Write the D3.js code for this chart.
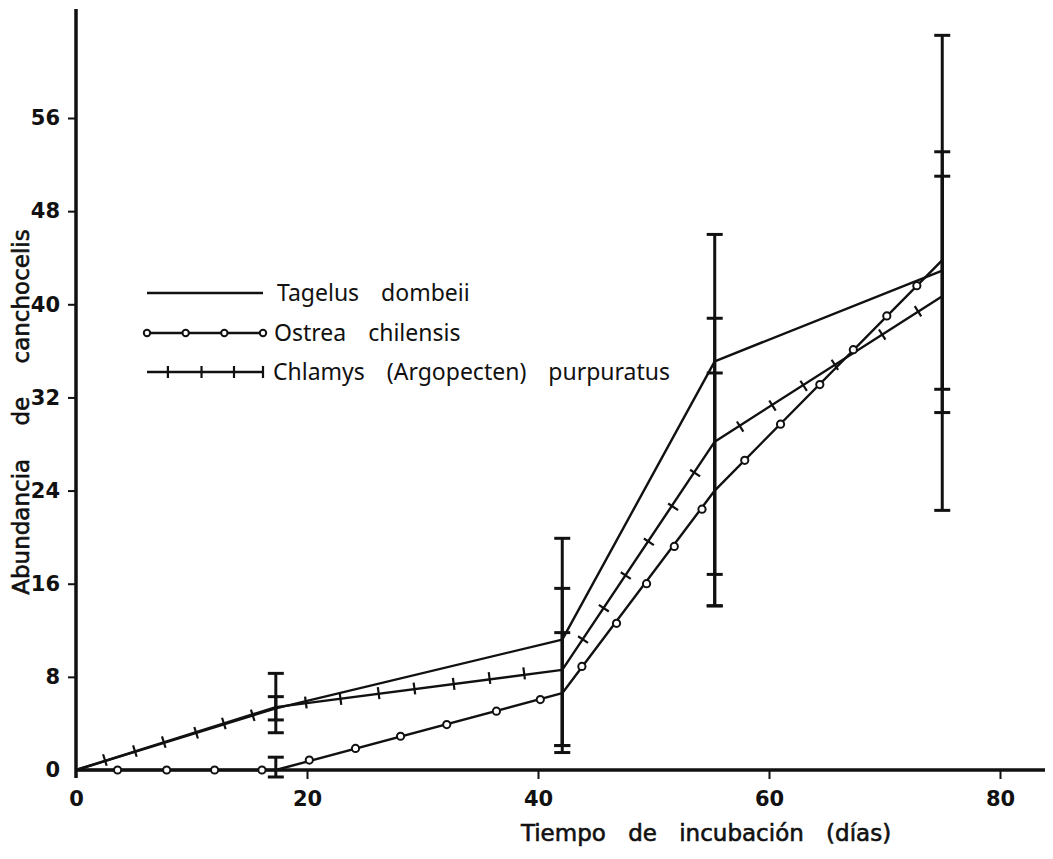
<!DOCTYPE html>
<html>
<head>
<meta charset="utf-8">
<script src="https://cdn.jsdelivr.net/npm/d3@7"></script>
<style>
  html, body { margin: 0; padding: 0; background: #ffffff; }
  svg { display: block; }
</style>
</head>
<body>
<svg id="chart" width="1053" height="859"></svg>
<script>
// ---------- data ----------
const xTicks = [0, 20, 40, 60, 80];
const yTicks = [0, 8, 16, 24, 32, 40, 48, 56];
const xTitle = "Tiempo de incubación (días)";
const yTitle = "Abundancia de canchocelis";
const seriesNames = ["Tagelus dombeii", "Ostrea chilensis", "Chlamys (Argopecten) purpuratus"];

const tagelusDays   = [0, 17.3, 42.1, 55.3, 75];
const tagelusValues = [0, 5.3, 11.2, 35.1, 42.9];

const ostreaDays   = [0, 17.3, 42.1, 55.3, 75];
const ostreaValues = [0, 0, 6.6, 24.0, 43.8];
const ostreaMarkerDays   = [3.6, 7.85, 12.0, 16.1, 20.2, 24.2, 28.1, 32.1, 36.4, 40.2, 43.8, 46.8, 49.4, 51.8, 54.2, 57.9, 61.0, 64.4, 67.3, 70.2, 72.8];
const ostreaMarkerValues = [0, 0, 0, 0, 0.85, 1.85, 2.9, 3.9, 5.05, 6.05, 8.9, 12.6, 16.0, 19.2, 22.4, 26.6, 29.7, 33.1, 36.1, 39.0, 41.6];

const chlamysDays   = [0, 17.3, 42.1, 55.3, 75];
const chlamysValues = [0, 5.4, 8.6, 28.2, 40.7];
const chlamysMarkerDays   = [2.5, 5.1, 7.6, 10.4, 12.8, 15.3, 19.9, 22.9, 26.2, 29.3, 32.7, 35.8, 38.8, 43.9, 45.7, 47.6, 49.6, 51.7, 53.6, 57.5, 60.3, 63.0, 65.7, 69.8, 72.9];
const chlamysMarkerValues = [0.86, 1.63, 2.4, 3.2, 4.0, 4.7, 5.8, 6.1, 6.6, 7.0, 7.4, 7.9, 8.3, 11.2, 13.9, 16.7, 19.6, 22.6, 25.5, 29.5, 31.3, 33.0, 34.8, 37.4, 39.4];

const errDays = [17.3, 17.3, 17.3, 42.1, 42.1, 42.1, 55.3, 55.3, 55.3, 75, 75, 75];
const errLow  = [3.2, 4.3, -0.6, 2.1, 1.5, 2.1, 14.1, 16.8, 14.1, 22.3, 32.7, 30.7];
const errHigh = [8.3, 6.3, 1.1, 19.9, 15.6, 11.8, 46.0, 38.8, 34.1, 63.1, 53.1, 51.0];

// ---------- layout ----------
const svg = d3.select("#chart");
const x = d3.scaleLinear().domain([0, 80]).range([76, 1000]);
const y = d3.scaleLinear().domain([0, 56]).range([770, 118]);
const xAxisEnd = 1045;
const yAxisTop = 9;
const ink = "#111";

const tickFont = "'DejaVu Sans', sans-serif";
const titleFont = "'DejaVu Sans', sans-serif";
const textFont = "'Noto Sans', 'DejaVu Sans', sans-serif";

// axes
const xAxis = d3.axisBottom(x).tickValues(xTicks).tickSize(9).tickPadding(12);
const gx = svg.append("g").attr("transform", `translate(0,${y(0)})`).call(xAxis);
gx.select(".domain").remove();
gx.selectAll(".tick line").attr("stroke", ink).attr("stroke-width", 2);
gx.selectAll(".tick text").attr("font-family", tickFont).attr("font-weight", "bold")
  .attr("font-size", 21).attr("fill", ink);
gx.selectAll(".tick").filter(d => d === 0).select("line").remove();

const yAxis = d3.axisLeft(y).tickValues(yTicks).tickSize(8).tickPadding(8);
const gy = svg.append("g").attr("transform", `translate(${x(0)},0)`).call(yAxis);
gy.select(".domain").remove();
gy.selectAll(".tick line").attr("stroke", ink).attr("stroke-width", 2);
gy.selectAll(".tick text").attr("font-family", tickFont).attr("font-weight", "bold")
  .attr("font-size", 21).attr("fill", ink);
gy.selectAll(".tick").filter(d => d === 0).select("line").remove();

// axis lines
svg.append("line").attr("x1", x(0)).attr("x2", xAxisEnd).attr("y1", y(0)).attr("y2", y(0))
  .attr("stroke", ink).attr("stroke-width", 3.5);
svg.append("line").attr("x1", x(0)).attr("x2", x(0)).attr("y1", yAxisTop).attr("y2", y(0) + 8)
  .attr("stroke", ink).attr("stroke-width", 3.5);

// axis titles
svg.append("text").attr("x", 706).attr("y", 841).attr("text-anchor", "middle")
  .attr("font-family", titleFont).attr("font-size", 23)
  .attr("word-spacing", 15).attr("fill", ink).attr("stroke", ink).attr("stroke-width", 0.6)
  .text(xTitle);
svg.append("text").attr("transform", `translate(29,412) rotate(-90)`).attr("text-anchor", "middle")
  .attr("font-family", titleFont).attr("font-size", 23)
  .attr("word-spacing", 26).attr("fill", ink).attr("stroke", ink).attr("stroke-width", 0.6)
  .text(yTitle);

// series lines
const line = d3.line().x(d => x(d[0])).y(d => y(d[1]));
function drawLine(days, vals) {
  svg.append("path").datum(days.map((d, i) => [d, vals[i]]))
    .attr("d", line).attr("fill", "none").attr("stroke", ink).attr("stroke-width", 2.4)
    .attr("stroke-linejoin", "round");
}
drawLine(tagelusDays, tagelusValues);
drawLine(ostreaDays, ostreaValues);
drawLine(chlamysDays, chlamysValues);

// error bars
const errs = errDays.map((d, i) => ({ d, lo: errLow[i], hi: errHigh[i] }));
const eg = svg.append("g").attr("stroke", ink).attr("stroke-width", 3);
eg.selectAll("line.v").data(errs).join("line").attr("class", "v")
  .attr("x1", e => x(e.d)).attr("x2", e => x(e.d)).attr("y1", e => y(e.lo)).attr("y2", e => y(e.hi));
const caps = errs.flatMap(e => [{ d: e.d, v: e.lo }, { d: e.d, v: e.hi }]);
eg.selectAll("line.c").data(caps).join("line").attr("class", "c")
  .attr("x1", c => x(c.d) - 8).attr("x2", c => x(c.d) + 8).attr("y1", c => y(c.v)).attr("y2", c => y(c.v));

// markers
svg.append("g").selectAll("circle").data(ostreaMarkerDays.map((d, i) => [d, ostreaMarkerValues[i]]))
  .join("circle").attr("cx", d => x(d[0])).attr("cy", d => y(d[1])).attr("r", 3.6)
  .attr("fill", "#fff").attr("stroke", ink).attr("stroke-width", 2);

// Chlamys tick marks drawn perpendicular to the segment they sit on
function segmentAngle(day) {
  let k = 0;
  while (k < chlamysDays.length - 2 && day > chlamysDays[k + 1]) k++;
  const dx = x(chlamysDays[k + 1]) - x(chlamysDays[k]);
  const dy = y(chlamysValues[k + 1]) - y(chlamysValues[k]);
  return Math.atan2(dy, dx);
}
const tickHalf = 6;
svg.append("g").selectAll("line").data(chlamysMarkerDays.map((d, i) => [d, chlamysMarkerValues[i]]))
  .join("line")
  .each(function (d) {
    const a = segmentAngle(d[0]) + Math.PI / 2;
    const cx = x(d[0]), cy = y(d[1]);
    d3.select(this)
      .attr("x1", cx - tickHalf * Math.cos(a)).attr("y1", cy - tickHalf * Math.sin(a))
      .attr("x2", cx + tickHalf * Math.cos(a)).attr("y2", cy + tickHalf * Math.sin(a));
  })
  .attr("stroke", ink).attr("stroke-width", 2.2);

// legend
const legendX0 = 147, legendX1 = 263, legendTextX = 277;
const legendY = [293, 333, 372];
const lg = svg.append("g");
seriesNames.forEach((name, i) => {
  const ly = legendY[i];
  lg.append("line").attr("x1", legendX0).attr("x2", legendX1).attr("y1", ly).attr("y2", ly)
    .attr("stroke", ink).attr("stroke-width", 2.4);
  lg.append("text").attr("x", legendTextX + (i === 1 ? -3 : (i === 2 ? -4 : 0))).attr("y", ly + 8)
    .attr("font-family", textFont).attr("font-size", 23).attr("word-spacing", 16)
    .attr("fill", ink).text(name);
});
// legend markers
const ostreaLegendPts = d3.range(4).map(k => legendX0 + k * (legendX1 - legendX0) / 3);
lg.selectAll("circle").data(ostreaLegendPts).join("circle")
  .attr("cx", d => d).attr("cy", legendY[1]).attr("r", 3.2)
  .attr("fill", "#fff").attr("stroke", ink).attr("stroke-width", 2);
const chlamysLegendPts = [0.18, 0.47, 0.75, 1].map(f => legendX0 + f * (legendX1 - legendX0));
lg.selectAll("line.t").data(chlamysLegendPts).join("line").attr("class", "t")
  .attr("x1", d => d).attr("x2", d => d).attr("y1", legendY[2] - 6).attr("y2", legendY[2] + 6)
  .attr("stroke", ink).attr("stroke-width", 2.2);
</script>
</body>
</html>
